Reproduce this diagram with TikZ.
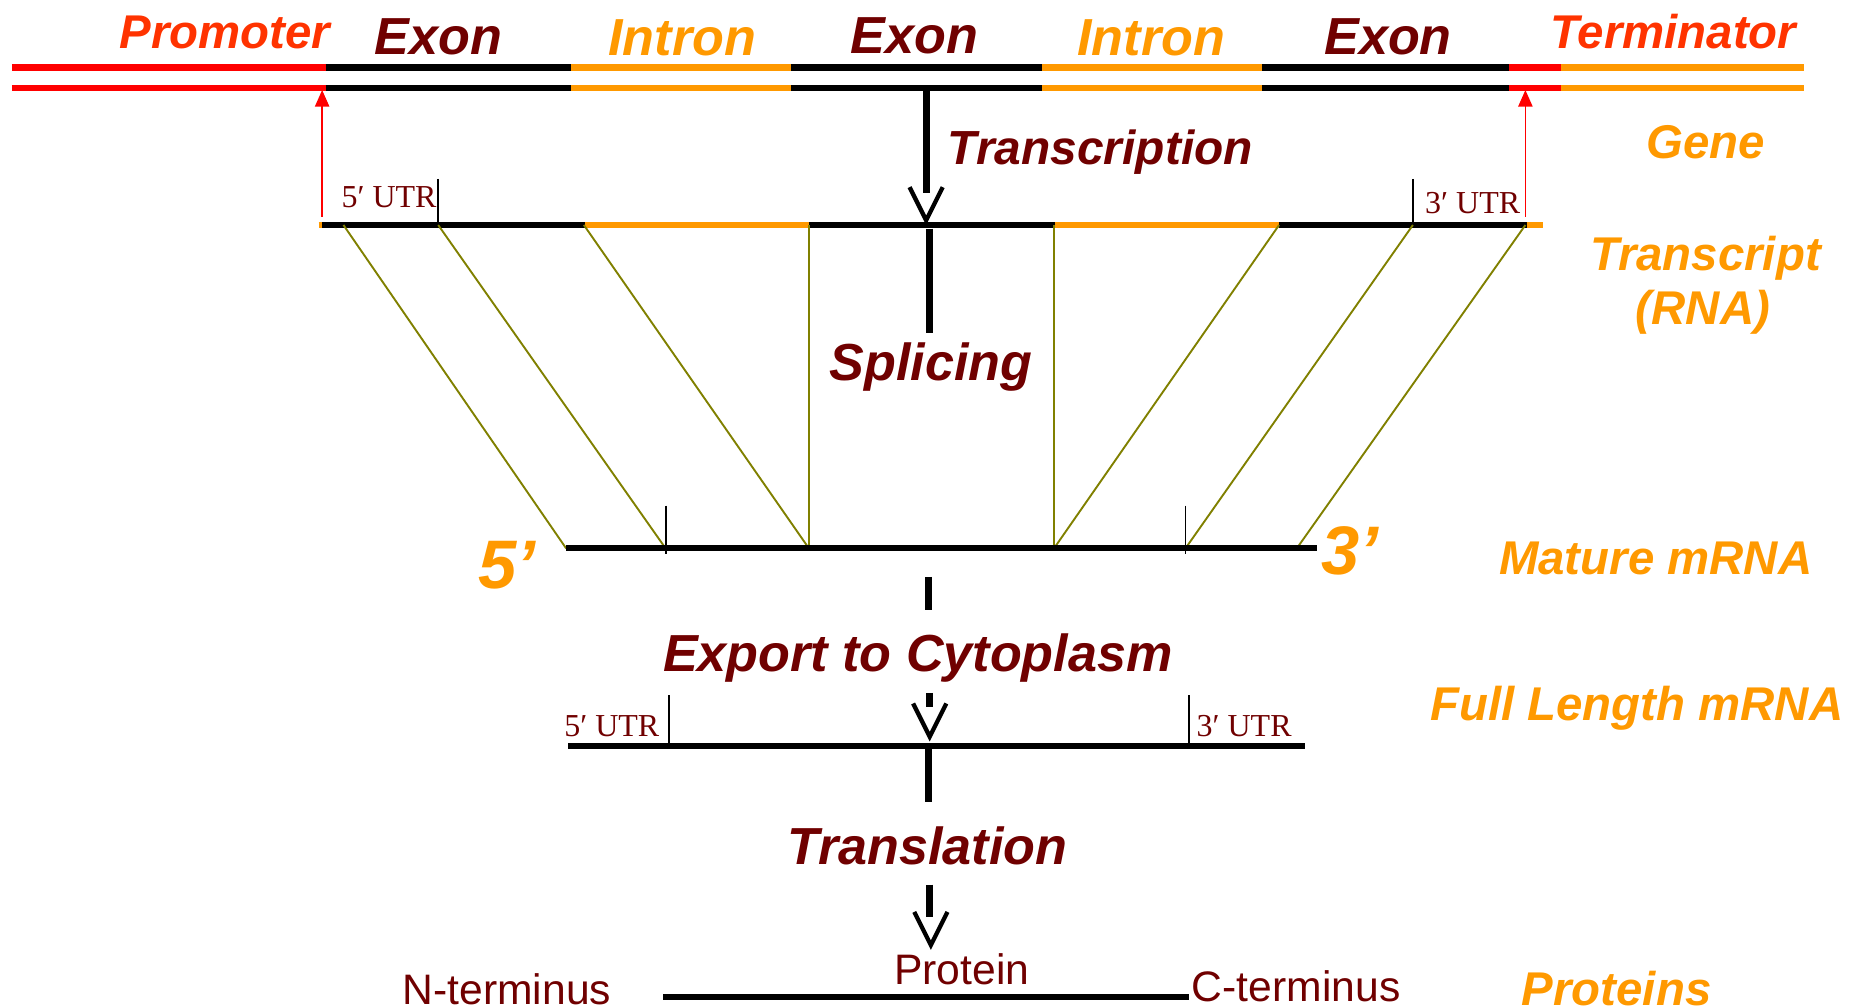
\documentclass[tikz,border=0pt]{standalone}
\usepackage{fontspec}
\setmainfont{Liberation Sans}
\newfontfamily\utrfont{Liberation Serif}
\usetikzlibrary{arrows.meta}
\definecolor{maroon}{HTML}{700000}
\definecolor{orng}{HTML}{FF9900}
\definecolor{redor}{HTML}{FF3300}
\definecolor{olivel}{HTML}{808000}
\begin{document}
\begin{tikzpicture}[x=0.5pt,y=-0.5pt,
  lbl/.style={font=\fontsize{20}{24}\selectfont\bfseries\itshape, inner sep=0pt, anchor=base},
  seglbl/.style={font=\fontsize{22}{26}\selectfont\bfseries\itshape, inner sep=0pt, anchor=base},
  biglbl/.style={font=\fontsize{22}{26}\selectfont\bfseries\itshape, inner sep=0pt, anchor=base, text=maroon},
  primelbl/.style={font=\fontsize{29}{32}\selectfont\bfseries\itshape, inner sep=0pt, anchor=base, text=orng},
  utr/.style={font=\utrfont\fontsize{13.5}{15}\selectfont, inner sep=0pt, anchor=base, text=maroon},
  plain/.style={font=\fontsize{18}{20}\selectfont, inner sep=0pt, anchor=base, text=maroon},
  strand/.style={line width=2.6pt},
  rna/.style={line width=2.5pt},
  shaft/.style={line width=3pt, black},
  vhead/.style={line width=1.8pt, black, line join=miter},
  tick/.style={line width=0.8pt, black},
  splice/.style={line width=0.8pt, olivel},
  startarrow/.style={line width=0.7pt, red, -{Triangle[length=7pt,width=6pt]}}
]
\useasboundingbox (0,0) rectangle (1568,849);

% ---------------- Gene (two strands)
\foreach \y in {57,74} {
  \draw[strand,red]   (10,\y)   -- (275,\y);
  \draw[strand,black] (275,\y)  -- (482,\y);
  \draw[strand,orng]  (482,\y)  -- (668,\y);
  \draw[strand,black] (668,\y)  -- (880,\y);
  \draw[strand,orng]  (880,\y)  -- (1066,\y);
  \draw[strand,black] (1066,\y) -- (1274,\y);
  \draw[strand,red]   (1274,\y) -- (1318,\y);
  \draw[strand,orng]  (1318,\y) -- (1523,\y);
}

% top labels
\node[lbl,text=redor]     (promoter)   at (190,41) {Promoter};
\node[seglbl,text=maroon] (exon1)      at (370,46) {Exon};
\node[seglbl,text=orng]   (intron1)    at (576,47) {Intron};
\node[seglbl,text=maroon] (exon2)      at (772,45) {Exon};
\node[seglbl,text=orng]   (intron2)    at (972,47) {Intron};
\node[seglbl,text=maroon] (exon3)      at (1172,46) {Exon};
\node[lbl,text=redor]     (terminator) at (1413,41) {Terminator};

% ---------------- Transcript
\draw[rna,orng]  (269,190)  -- (273,190);
\draw[rna,black] (272,190)  -- (494,190);
\draw[rna,orng]  (494,190)  -- (683,190);
\draw[rna,black] (683,190)  -- (891,190);
\draw[rna,orng]  (891,190)  -- (1080,190);
\draw[rna,black] (1080,190) -- (1289,190);
\draw[rna,orng]  (1289,190) -- (1303,190);

\draw[tick] (370,151) -- (370,192);
\draw[tick] (1193,151) -- (1193,192);
\node[utr,anchor=base east] (utr5a) at (369,175) {5′ UTR};
\node[utr,anchor=base west] (utr3a) at (1203,180) {3′ UTR};

% red start/stop arrows
\coordinate (tss) at (272,183);
\coordinate (tssG) at (272,76);
\coordinate (tes) at (1288,183);
\coordinate (tesG) at (1288,76);
\draw[startarrow] (tss) -- (tssG);
\draw[startarrow] (tes) -- (tesG);

% transcription arrow
\draw[shaft] (782,76) -- (782,163);
\draw[vhead] (768,158) -- (782,186) -- (796,158);
\node[biglbl,anchor=base west,font=\fontsize{20.2}{24}\selectfont\bfseries\itshape] (transcription) at (800,139) {Transcription};

% ---------------- Splicing
\draw[shaft] (785,193) -- (785,281);
\node[biglbl] (splicing) at (786,321) {Splicing};

\draw[splice] (290,190)  -- (478,463);
\draw[splice] (370,190)  -- (562,463);
\draw[splice] (493,190)  -- (683,463);
\draw[splice] (683,190)  -- (683,463);
\draw[splice] (890,190)  -- (890,463);
\draw[splice] (1080,190) -- (890,463);
\draw[splice] (1193,190) -- (1001,463);
\draw[splice] (1288,190) -- (1095,463);

% ---------------- Mature mRNA
\draw[rna,black] (478,463) -- (1112,463);
\draw[tick] (562,427) -- (562,468);
\draw[tick] (1001,427) -- (1001,468);
\node[primelbl] (five) at (428,497) {5’};
\node[primelbl] (three) at (1140,485) {3’};

% ---------------- Export
\draw[shaft] (784,487) -- (784,515);
\node[biglbl] (export) at (775,567) {Export to Cytoplasm};
\draw[shaft] (785,585) -- (785,597);
\draw[vhead] (771,594) -- (785,622) -- (799,594);

% ---------------- Full length mRNA
\draw[rna,black] (480,630) -- (1102,630);
\draw[tick] (565,587) -- (565,630);
\draw[tick] (1004,587) -- (1004,630);
\node[utr,anchor=base east] (utr5b) at (557,622) {5′ UTR};
\node[utr,anchor=base west] (utr3b) at (1010,622) {3′ UTR};

% ---------------- Translation
\draw[shaft] (784,632) -- (784,677);
\node[biglbl] (translation) at (783,730) {Translation};
\draw[shaft] (785,747) -- (785,774);
\draw[vhead] (772,770) -- (786,798) -- (800,770);

% ---------------- Protein
\draw[rna,black] (560,842) -- (1004,842);
\node[plain] (protein) at (812,831) {Protein};
\node[plain] (nterm) at (428,848) {N-terminus};
\node[plain,anchor=base west] (cterm) at (1006,846) {C-terminus};

% ---------------- right-side labels
\node[lbl,text=orng] (gene) at (1440,134) {Gene};
\node[lbl,text=orng] (transcript) at (1440,228) {Transcript};
\node[lbl,text=orng] (rnalbl) at (1438,274) {(RNA)};
\node[lbl,text=orng] (mature) at (1398,485) {Mature mRNA};
\node[lbl,text=orng] (fulllen) at (1382,608) {Full Length mRNA};
\node[lbl,text=orng] (proteins) at (1365,849) {Proteins};
\end{tikzpicture}
\end{document}
